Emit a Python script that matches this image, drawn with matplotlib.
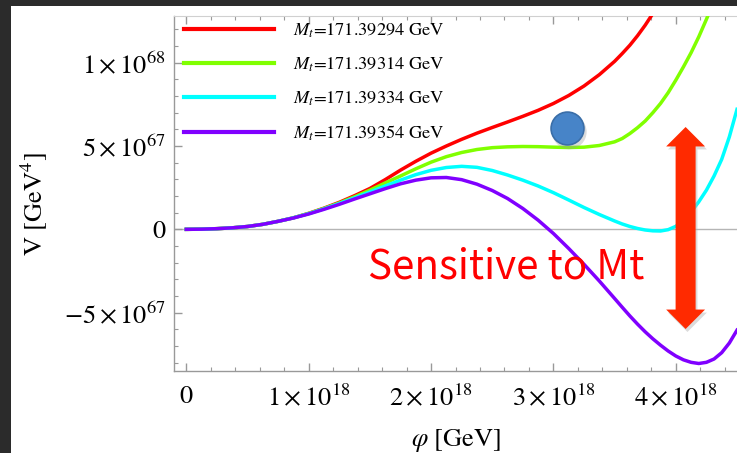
import matplotlib
matplotlib.use("Agg")
import matplotlib.pyplot as plt
from matplotlib.patches import Rectangle, FancyArrowPatch
from matplotlib.ticker import FixedLocator, FixedFormatter, MultipleLocator

# field value (units of 1e18 GeV); finer steps where the curves bend hard
phi = [0.000, 0.125, 0.250, 0.375, 0.500, 0.625, 0.750, 0.875,
       1.000, 1.125, 1.250, 1.375, 1.500, 1.625, 1.750, 1.875,
       2.000, 2.125, 2.250, 2.375, 2.500, 2.625, 2.750, 2.875,
       3.000, 3.125, 3.250, 3.375, 3.500,
       3.5625, 3.625, 3.6875, 3.750, 3.8125, 3.875, 3.9375, 4.000,
       4.0625, 4.125, 4.1875, 4.250, 4.3125, 4.375, 4.4375, 4.500]

# potential (units of 1e67 GeV^4), one list per top mass
v_red = [0.00, 0.01, 0.04, 0.09, 0.17, 0.30, 0.48, 0.69,
         0.96, 1.27, 1.62, 2.02, 2.45, 2.98, 3.55, 4.08,
         4.57, 5.00, 5.40, 5.77, 6.11, 6.44, 6.78, 7.14,
         7.55, 8.03, 8.60, 9.28, 10.08,
         10.55, 11.05, 11.62, 12.25, 12.95, 13.70, 14.50, 15.30,
         16.10, 17.00, 17.90, 18.90, 19.90, 21.00, 22.10, 23.20]
v_green = [0.00, 0.01, 0.04, 0.09, 0.17, 0.30, 0.48, 0.69,
           0.95, 1.25, 1.58, 1.95, 2.35, 2.78, 3.20, 3.63,
           4.03, 4.36, 4.61, 4.79, 4.90, 4.95, 4.97, 4.96,
           4.93, 4.91, 4.93, 5.03, 5.25,
           5.45, 5.75, 6.10, 6.50, 7.00, 7.55, 8.20, 8.95,
           9.75, 10.60, 11.55, 12.60, 13.70, 14.80, 16.00, 17.20]
v_cyan = [0.00, 0.01, 0.04, 0.09, 0.17, 0.30, 0.48, 0.69,
          0.94, 1.23, 1.55, 1.89, 2.24, 2.60, 2.95, 3.28,
          3.54, 3.71, 3.78, 3.72, 3.53, 3.26, 2.95, 2.60,
          2.20, 1.76, 1.31, 0.89, 0.50,
          0.32, 0.17, 0.05, -0.04, -0.09, -0.10, -0.02, 0.18,
          0.55, 1.05, 1.65, 2.35, 3.20, 4.20, 5.55, 7.20]
v_purple = [0.00, 0.01, 0.04, 0.09, 0.17, 0.30, 0.48, 0.68,
            0.92, 1.20, 1.50, 1.82, 2.13, 2.44, 2.73, 2.95,
            3.09, 3.11, 2.98, 2.71, 2.33, 1.85, 1.25, 0.55,
            -0.25, -1.15, -2.10, -3.10, -4.15,
            -4.68, -5.20, -5.69, -6.15, -6.57, -6.95, -7.30, -7.60,
            -7.83, -7.98, -8.05, -7.98, -7.78, -7.40, -6.82, -6.05]

labels = ["171.39294", "171.39314", "171.39334", "171.39354"]
colors = ["#ff0000", "#80ff00", "#00ffff", "#8000ff"]

xticks = [0, 1, 2, 3, 4]
xticklabels = ["0", r"$1\times10^{18}$", r"$2\times10^{18}$",
               r"$3\times10^{18}$", r"$4\times10^{18}$"]
yticks = [-5, 0, 5, 10]
yticklabels = [r"$-5\times10^{67}$", "0", r"$5\times10^{67}$", r"$1\times10^{68}$"]

plt.rcParams["font.family"] = ["STIXGeneral", "DejaVu Serif"]
plt.rcParams["mathtext.fontset"] = "stix"

W, H = 737, 453
fig = plt.figure(figsize=(W / 100, H / 100), dpi=100, facecolor="white")
# dark slide border on the left and top
fig.add_artist(Rectangle((0, 0), 11 / W, 1, transform=fig.transFigure,
                         facecolor="#2b2b2b", edgecolor="none", zorder=-5))
fig.add_artist(Rectangle((0, 1 - 6 / H), 1, 6 / H, transform=fig.transFigure,
                         facecolor="#2b2b2b", edgecolor="none", zorder=-5))

left, bottom, top = 174.3, 371, 16
ax = fig.add_axes([left / W, 1 - bottom / H, 1 - left / W, (bottom - top) / H])
ax.set_facecolor("white")
ax.set_xlim(-0.098, 4.50)
ax.set_ylim(-8.5, 12.8)

ax.axhline(0, color="#b5b5b5", lw=1.0, zorder=1)

series = [v_red, v_green, v_cyan, v_purple]
for vals, c, lab in zip(series, colors, labels):
    ax.plot(phi, vals, color=c, lw=2.5, solid_joinstyle="round",
            label=r"$M_t$=" + lab + " GeV", zorder=3)

# spines and ticks
for s in ["left", "bottom"]:
    ax.spines[s].set_color("#999999")
    ax.spines[s].set_linewidth(1.0)
ax.spines["top"].set_color("#d0d0d0")
ax.spines["right"].set_visible(False)

ax.xaxis.set_major_locator(FixedLocator(xticks))
ax.xaxis.set_major_formatter(FixedFormatter(xticklabels))
ax.xaxis.set_minor_locator(MultipleLocator(0.2))
ax.yaxis.set_major_locator(FixedLocator(yticks))
ax.yaxis.set_major_formatter(FixedFormatter(yticklabels))
ax.yaxis.set_minor_locator(MultipleLocator(1))
ax.tick_params(which="both", direction="in", color="#999999", top=True,
               labelsize=19, labelcolor="black")
ax.tick_params(which="major", length=6, width=1.0)
ax.tick_params(which="minor", length=3, width=0.8)
ax.tick_params(axis="x", pad=10)
ax.tick_params(axis="y", pad=6)

ax.set_xlabel(r"$\varphi$ [GeV]", fontsize=19, va="center")
ax.xaxis.set_label_coords((455.6 - left) / (W - left), -(441 - bottom) / (bottom - top))
ax.set_ylabel(r"V [GeV$^4$]", fontsize=19, va="center")
ax.yaxis.set_label_coords((34 - left) / (W - left), 0.47)

leg = ax.legend(loc="upper left", bbox_to_anchor=(0.017, 0.985), frameon=False,
                fontsize=13.2, handlelength=4.9, handletextpad=1.05,
                labelspacing=0.85, borderpad=0, borderaxespad=0)
for h in leg.get_lines():
    h.set_linewidth(3)

# blue ball with soft shadow
ax.scatter([3.13], [5.85], s=620, color="#9a9a9a", alpha=0.35, edgecolors="none", zorder=4)
ax.scatter([3.11], [6.06], s=560, color="#4784c8", edgecolors="#3a6ea8",
           linewidths=1.2, zorder=5)

# double-headed red arrow with shadow
style = "simple,head_width=28,head_length=14,tail_width=14.4"
for y0, y1 in [(0.08, 6.14), (0.08, -5.98)]:
    ax.add_patch(FancyArrowPatch((4.095, y0 - 0.18), (4.095, y1 - 0.18), arrowstyle=style,
                                 mutation_scale=1, color="#b0b0b0", alpha=0.45,
                                 lw=0, shrinkA=0, shrinkB=0, zorder=5))
    ax.add_patch(FancyArrowPatch((4.08, y0), (4.08, y1), arrowstyle=style,
                                 mutation_scale=1, color="#ff2a00", lw=0,
                                 shrinkA=0, shrinkB=0, zorder=6))

ax.text(2.61, -2.26, "Sensitive to Mt", color="#ff0000", fontsize=29,
        family=["Noto Sans CJK JP", "DejaVu Sans"], ha="center", va="center", zorder=6)

fig.savefig("out.png", dpi=100, facecolor=fig.get_facecolor())
